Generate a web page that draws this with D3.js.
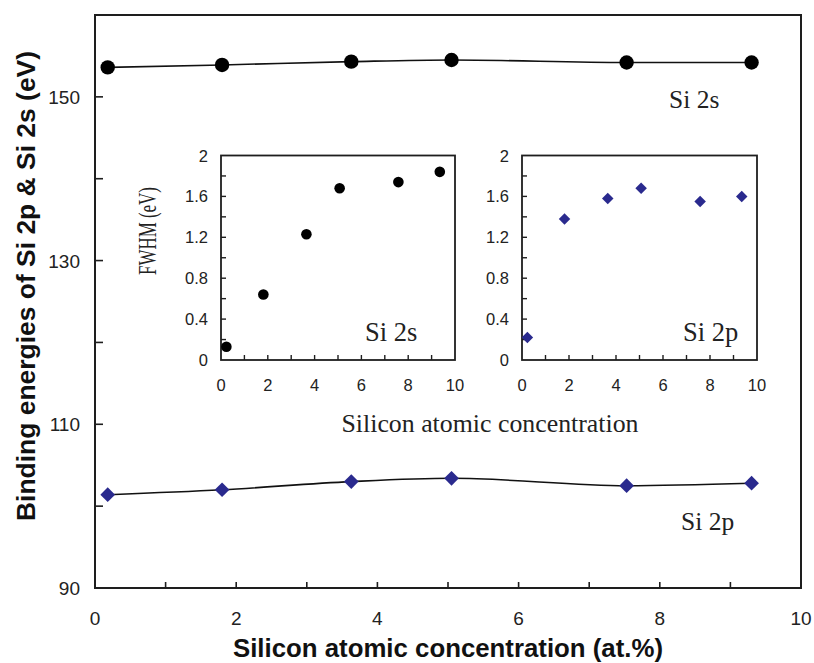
<!DOCTYPE html>
<html>
<head>
<meta charset="utf-8">
<script src="https://cdn.jsdelivr.net/npm/d3@7"></script>
<style>
  html, body { margin: 0; padding: 0; background: #fff; }
  svg { display: block; }
</style>
</head>
<body>
<svg id="chart" width="814" height="663"></svg>
<script>
// Silicon atomic concentration (at.%) of the samples
const concMain = [0.18, 1.8, 3.63, 5.05, 7.53, 9.3];
// Binding energies (eV)
const si2sBE = [153.6, 153.9, 154.3, 154.5, 154.2, 154.2];
const si2pBE = [101.4, 102.0, 103.0, 103.4, 102.5, 102.8];

// FWHM insets
const concInset = [0.23, 1.81, 3.65, 5.07, 7.58, 9.35];
const si2sFWHM = [0.13, 0.64, 1.23, 1.68, 1.74, 1.84];
const si2pFWHM = [0.22, 1.38, 1.58, 1.68, 1.55, 1.60];

const mainXTicks = [0, 2, 4, 6, 8, 10];
const mainYTicks = [90, 110, 130, 150];
const insetXTicks = [0, 2, 4, 6, 8, 10];
const insetYTicks = [0, 0.4, 0.8, 1.2, 1.6, 2];

const svg = d3.select("#chart");
const SANS = "'Liberation Sans', Arial, Helvetica, sans-serif";
const SERIF = "'Liberation Serif', 'Times New Roman', serif";
const AXIS = "#1e1e1e";
const BLUE = "#2a2a8e";

// ---------- main panel ----------
const M = { left: 95, right: 801, top: 15, bottom: 588 };
const x = d3.scaleLinear().domain([0, 10]).range([M.left, M.right]);
const y = d3.scaleLinear().domain([90, 160]).range([M.bottom, M.top]);

const main = svg.append("g");

// inward minor ticks on x (every 1) and y (every 10)
main.append("g").selectAll("line").data(d3.range(1, 10)).join("line")
  .attr("x1", d => x(d)).attr("x2", d => x(d))
  .attr("y1", M.bottom).attr("y2", M.bottom - 6)
  .attr("stroke", AXIS).attr("stroke-width", 1.6);
main.append("g").selectAll("line").data(d3.range(100, 160, 10)).join("line")
  .attr("x1", M.left).attr("x2", M.left + 8)
  .attr("y1", d => y(d)).attr("y2", d => y(d))
  .attr("stroke", AXIS).attr("stroke-width", 1.6);

main.append("rect")
  .attr("x", M.left).attr("y", M.top)
  .attr("width", M.right - M.left).attr("height", M.bottom - M.top)
  .attr("fill", "none").attr("stroke", AXIS).attr("stroke-width", 2);

main.append("g").selectAll("text").data(mainXTicks).join("text")
  .attr("x", d => x(d)).attr("y", 625)
  .attr("text-anchor", "middle")
  .attr("font-family", SANS).attr("font-size", 19).attr("fill", "#222")
  .text(d => d);
main.append("g").selectAll("text").data(mainYTicks).join("text")
  .attr("x", 80).attr("y", d => y(d) + 7)
  .attr("text-anchor", "end")
  .attr("font-family", SANS).attr("font-size", 19).attr("fill", "#222")
  .text(d => d);

main.append("text")
  .attr("x", 448).attr("y", 657)
  .attr("text-anchor", "middle")
  .attr("font-family", SANS).attr("font-size", 25.5).attr("font-weight", "bold")
  .attr("fill", "#111")
  .attr("textLength", 430).attr("lengthAdjust", "spacingAndGlyphs")
  .text("Silicon atomic concentration (at.%)");
main.append("text")
  .attr("transform", "translate(35,286) rotate(-90)")
  .attr("text-anchor", "middle")
  .attr("font-family", SANS).attr("font-size", 25.5).attr("font-weight", "bold")
  .attr("fill", "#111")
  .attr("textLength", 470).attr("lengthAdjust", "spacingAndGlyphs")
  .text("Binding energies of Si 2p & Si 2s (eV)");

const lineMain = d3.line().x(d => x(d[0])).y(d => y(d[1])).curve(d3.curveMonotoneX);
const s2s = d3.zip(concMain, si2sBE);
const s2p = d3.zip(concMain, si2pBE);

main.append("path").datum(s2s).attr("d", lineMain)
  .attr("fill", "none").attr("stroke", "#111").attr("stroke-width", 1.6);
main.append("path").datum(s2p).attr("d", lineMain)
  .attr("fill", "none").attr("stroke", "#111").attr("stroke-width", 1.6);

main.append("g").selectAll("circle").data(s2s).join("circle")
  .attr("cx", d => x(d[0])).attr("cy", d => y(d[1])).attr("r", 7.2)
  .attr("fill", "#000");

const diamondMain = d3.symbol().type(d3.symbolSquare).size(108);
main.append("g").selectAll("path").data(s2p).join("path")
  .attr("d", diamondMain)
  .attr("transform", d => `translate(${x(d[0])},${y(d[1])}) rotate(45)`)
  .attr("fill", BLUE);

main.append("text").attr("x", 669).attr("y", 108)
  .attr("font-family", SERIF).attr("font-size", 25.5).attr("fill", "#222")
  .text("Si 2s");
main.append("text").attr("x", 681).attr("y", 530)
  .attr("font-family", SERIF).attr("font-size", 25.5).attr("fill", "#222")
  .text("Si 2p");

// ---------- FWHM insets ----------
function inset(left, right, values, kind, label, labelX) {
  const top = 155.5, bottom = 360;
  const ix = d3.scaleLinear().domain([0, 10]).range([left, right]);
  const iy = d3.scaleLinear().domain([0, 2]).range([bottom, top]);
  const g = svg.append("g");

  g.append("g").selectAll("line").data(d3.range(1, 10)).join("line")
    .attr("x1", d => ix(d)).attr("x2", d => ix(d))
    .attr("y1", bottom).attr("y2", bottom - 5)
    .attr("stroke", AXIS).attr("stroke-width", 1.4);
  g.append("g").selectAll("line").data(d3.range(0.2, 2, 0.2)).join("line")
    .attr("x1", left).attr("x2", left + 5)
    .attr("y1", d => iy(d)).attr("y2", d => iy(d))
    .attr("stroke", AXIS).attr("stroke-width", 1.4);

  g.append("rect")
    .attr("x", left).attr("y", top)
    .attr("width", right - left).attr("height", bottom - top)
    .attr("fill", "none").attr("stroke", AXIS).attr("stroke-width", 1.8);

  g.append("g").selectAll("text").data(insetXTicks).join("text")
    .attr("x", d => ix(d)).attr("y", 391)
    .attr("text-anchor", "middle")
    .attr("font-family", SANS).attr("font-size", 16.5).attr("fill", "#222")
    .text(d => d);
  g.append("g").selectAll("text").data(insetYTicks).join("text")
    .attr("x", left - 13).attr("y", d => iy(d) + 6)
    .attr("text-anchor", "end")
    .attr("font-family", SANS).attr("font-size", 16.5).attr("fill", "#222")
    .text(d => d);

  const pts = d3.zip(concInset, values);
  if (kind === "circle") {
    g.append("g").selectAll("circle").data(pts).join("circle")
      .attr("cx", d => ix(d[0])).attr("cy", d => iy(d[1])).attr("r", 5.3)
      .attr("fill", "#000");
  } else {
    const dm = d3.symbol().type(d3.symbolSquare).size(66);
    g.append("g").selectAll("path").data(pts).join("path")
      .attr("d", dm)
      .attr("transform", d => `translate(${ix(d[0])},${iy(d[1])}) rotate(45)`)
      .attr("fill", BLUE);
  }

  g.append("text").attr("x", labelX).attr("y", 341)
    .attr("font-family", SERIF).attr("font-size", 26.5).attr("fill", "#222")
    .text(label);
}

inset(221, 455, si2sFWHM, "circle", "Si 2s", 365);
inset(522, 757, si2pFWHM, "diamond", "Si 2p", 683);

svg.append("text")
  .attr("transform", "translate(156,231) rotate(-90)")
  .attr("text-anchor", "middle")
  .attr("font-family", SERIF).attr("font-size", 25).attr("fill", "#222")
  .attr("textLength", 88).attr("lengthAdjust", "spacingAndGlyphs")
  .text("FWHM (eV)");
svg.append("text")
  .attr("x", 490).attr("y", 432)
  .attr("text-anchor", "middle")
  .attr("font-family", SERIF).attr("font-size", 25.5).attr("fill", "#222")
  .attr("textLength", 297).attr("lengthAdjust", "spacingAndGlyphs")
  .text("Silicon atomic concentration");
</script>
</body>
</html>
